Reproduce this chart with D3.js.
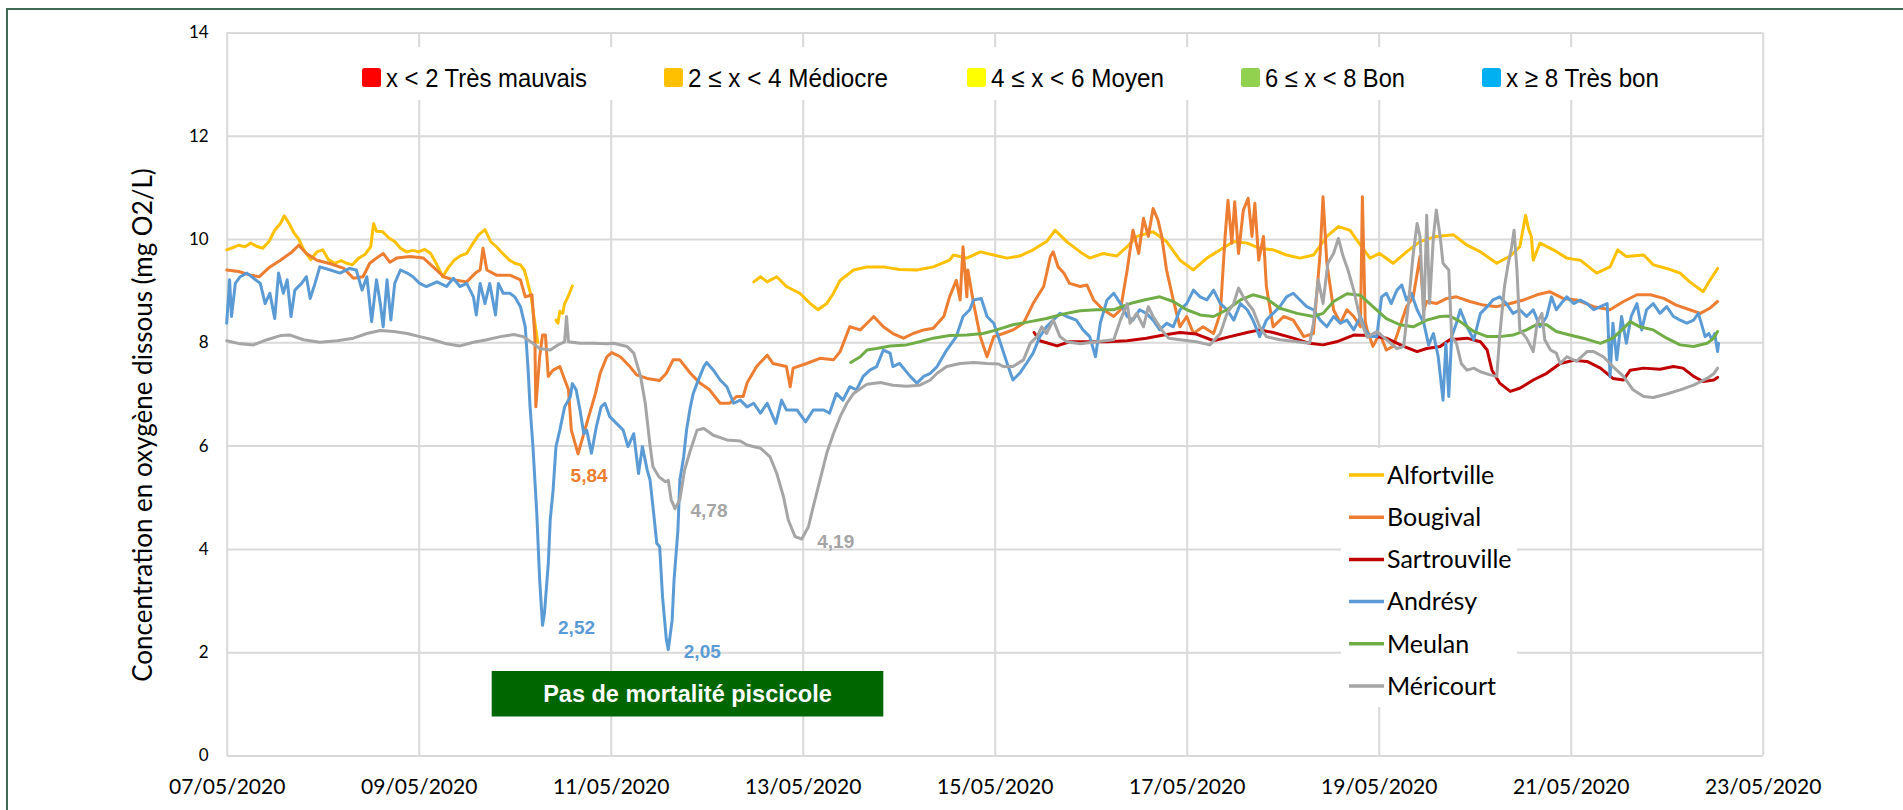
<!DOCTYPE html>
<html lang="fr">
<head>
<meta charset="utf-8">
<script src="https://cdn.jsdelivr.net/npm/d3@7"></script>
<style>
  html, body { margin: 0; padding: 0; background: #fff; }
  svg { display: block; }
</style>
</head>
<body>
<svg id="chart"></svg>
<script>
////////////
// DATA
////////////

// x ticks, y ticks
const tickLabels = ["07/05/2020", "09/05/2020", "11/05/2020", "13/05/2020", "15/05/2020",
    "17/05/2020", "19/05/2020", "21/05/2020", "23/05/2020"];
const yTicks = [0, 2, 4, 6, 8, 10, 12, 14];

// quality classes (top legend)
const classes = ["x < 2 Très mauvais", "2 ≤ x < 4 Médiocre", "4 ≤ x < 6 Moyen", "6 ≤ x < 8 Bon", "x ≥ 8 Très bon"];

const stations = ["Alfortville", "Bougival", "Sartrouville", "Andrésy", "Meulan", "Méricourt"];

// [days since 07/05/2020 00:00, mg O2/L] - null = no measure
const alfortville = [[0,9.79],[0.06,9.83],[0.125,9.88],[0.19,9.85],[0.25,9.92],[0.31,9.86],[0.375,9.82],[0.44,9.95],[0.5,10.17],[0.56,10.3],[0.6,10.45],[0.65,10.3],[0.7,10.12],[0.75,10.0],[0.8,9.8],[0.875,9.6],[0.94,9.75],[1.0,9.79],[1.06,9.6],[1.125,9.53],[1.19,9.58],[1.25,9.53],[1.31,9.5],[1.375,9.63],[1.44,9.7],[1.5,9.85],[1.53,10.3],[1.56,10.15],[1.625,10.14],[1.69,10.02],[1.75,9.95],[1.81,9.82],[1.875,9.75],[1.94,9.78],[2.0,9.75],[2.06,9.8],[2.125,9.72],[2.19,9.5],[2.25,9.27],[2.31,9.45],[2.375,9.6],[2.44,9.68],[2.5,9.72],[2.56,9.9],[2.625,10.08],[2.69,10.18],[2.75,9.95],[2.81,9.85],[2.875,9.72],[2.94,9.6],[3.0,9.53],[3.06,9.5],[3.1,9.4],[3.13,9.2],[3.17,8.9],[3.2,8.5],[3.24,8.0],[3.3,null],
    [3.43,8.43],[3.45,8.37],[3.47,8.6],[3.5,8.56],[3.52,8.75],[3.56,8.9],[3.6,9.09],[3.7,null],
    [5.49,9.17],[5.56,9.27],[5.63,9.17],[5.73,9.27],[5.83,9.08],[5.97,8.95],[6.08,8.75],[6.16,8.63],[6.25,8.75],[6.32,8.95],[6.39,9.2],[6.53,9.4],[6.67,9.46],[6.84,9.46],[7.01,9.41],[7.19,9.4],[7.36,9.46],[7.53,9.59],[7.57,9.69],[7.71,9.63],[7.85,9.75],[7.99,9.69],[8.13,9.63],[8.26,9.67],[8.4,9.79],[8.54,9.95],[8.63,10.17],[8.75,9.95],[8.89,9.75],[8.99,9.63],[9.13,9.72],[9.27,9.67],[9.38,9.85],[9.48,10.05],[9.65,10.14],[9.79,9.95],[9.93,9.59],[10.07,9.4],[10.21,9.63],[10.35,9.79],[10.49,9.95],[10.63,9.92],[10.76,9.82],[10.9,9.79],[11.04,9.69],[11.18,9.63],[11.32,9.69],[11.46,10.05],[11.58,10.24],[11.7,10.17],[11.81,9.88],[11.91,9.63],[12.01,9.72],[12.15,9.53],[12.29,9.75],[12.43,9.95],[12.6,10.05],[12.78,10.08],[12.92,9.88],[13.06,9.75],[13.23,9.53],[13.37,9.67],[13.47,9.85],[13.53,10.46],[13.56,10.2],[13.59,10.05],[13.61,9.59],[13.68,9.92],[13.82,9.79],[13.96,9.63],[14.1,9.59],[14.27,9.34],[14.41,9.46],[14.49,9.79],[14.58,9.66],[14.76,9.69],[14.86,9.5],[15.0,9.43],[15.14,9.34],[15.24,9.17],[15.38,8.98],[15.45,9.2],[15.53,9.43]];

const bougival = [[0,9.4],[0.125,9.37],[0.25,9.3],[0.34,9.27],[0.45,9.46],[0.56,9.59],[0.68,9.75],[0.75,9.88],[0.83,9.72],[0.94,9.59],[1.08,9.52],[1.22,9.43],[1.32,9.24],[1.42,9.27],[1.49,9.53],[1.56,9.63],[1.63,9.72],[1.7,9.55],[1.77,9.63],[1.91,9.66],[2.05,9.63],[2.15,9.46],[2.26,9.27],[2.36,9.21],[2.5,9.17],[2.59,9.34],[2.64,9.4],[2.67,9.82],[2.71,9.4],[2.81,9.3],[2.95,9.3],[3.06,9.21],[3.11,8.88],[3.18,8.92],[3.21,8.1],[3.22,6.75],[3.26,7.72],[3.29,8.14],[3.32,8.14],[3.35,7.34],[3.4,7.46],[3.47,7.53],[3.56,7.08],[3.59,6.3],[3.66,5.84],[3.73,6.3],[3.78,6.62],[3.84,7.0],[3.89,7.4],[3.96,7.72],[4.01,7.8],[4.1,7.72],[4.2,7.53],[4.27,7.37],[4.38,7.3],[4.51,7.26],[4.58,7.4],[4.65,7.66],[4.72,7.66],[4.83,7.4],[4.93,7.21],[5.03,7.08],[5.14,6.82],[5.24,6.82],[5.31,6.95],[5.38,6.95],[5.42,7.21],[5.52,7.53],[5.63,7.75],[5.69,7.59],[5.83,7.53],[5.87,7.14],[5.9,7.5],[6.04,7.59],[6.18,7.69],[6.32,7.66],[6.39,7.82],[6.49,8.3],[6.6,8.24],[6.67,8.37],[6.74,8.5],[6.84,8.3],[6.94,8.17],[7.05,8.08],[7.15,8.17],[7.26,8.24],[7.36,8.27],[7.47,8.5],[7.53,8.88],[7.6,9.2],[7.64,8.82],[7.67,9.85],[7.71,8.88],[7.72,9.4],[7.78,8.75],[7.85,8.11],[7.92,7.72],[7.99,8.11],[8.09,8.17],[8.19,8.24],[8.3,8.37],[8.4,8.75],[8.51,9.08],[8.58,9.66],[8.61,9.75],[8.66,9.46],[8.72,9.34],[8.78,9.14],[8.89,9.08],[8.96,9.11],[9.03,8.82],[9.13,8.63],[9.24,8.5],[9.31,8.63],[9.38,9.4],[9.44,10.17],[9.5,9.72],[9.55,10.4],[9.6,10.05],[9.65,10.59],[9.7,10.37],[9.74,10.05],[9.79,9.4],[9.86,8.82],[9.93,8.3],[10.0,8.5],[10.07,8.17],[10.17,8.3],[10.28,8.17],[10.35,8.56],[10.4,10.05],[10.43,10.75],[10.47,9.92],[10.5,10.72],[10.54,9.72],[10.59,10.56],[10.64,10.79],[10.68,10.05],[10.71,10.69],[10.75,9.59],[10.8,10.05],[10.83,9.08],[10.9,8.3],[11.01,8.5],[11.11,8.43],[11.22,8.11],[11.32,8.17],[11.39,9.72],[11.42,10.82],[11.46,9.53],[11.53,8.63],[11.6,8.37],[11.67,8.63],[11.74,8.5],[11.81,8.3],[11.83,10.82],[11.86,8.4],[11.88,8.24],[11.94,7.92],[12.01,8.17],[12.08,7.85],[12.15,7.92],[12.22,8.3],[12.29,8.69],[12.36,8.88],[12.43,9.66],[12.47,8.63],[12.5,8.79],[12.6,8.75],[12.71,8.85],[12.81,8.88],[12.95,8.79],[13.09,8.72],[13.23,8.69],[13.37,8.75],[13.51,8.82],[13.65,8.92],[13.78,8.98],[13.92,8.85],[14.06,8.82],[14.24,8.69],[14.41,8.63],[14.55,8.79],[14.69,8.92],[14.83,8.92],[14.97,8.85],[15.1,8.72],[15.24,8.63],[15.35,8.56],[15.45,8.66],[15.53,8.79]];

const sartrouville = [[8.41,8.19],[8.47,8.03],[8.65,7.93],[8.78,8.01],[8.96,8.01],[9.17,8.01],[9.38,8.03],[9.58,8.08],[9.76,8.14],[9.93,8.19],[10.1,8.16],[10.28,8.03],[10.45,8.11],[10.63,8.19],[10.76,8.24],[10.9,8.19],[11.11,8.08],[11.28,7.98],[11.42,7.95],[11.56,8.01],[11.74,8.14],[11.91,8.13],[12.08,8.08],[12.26,7.92],[12.4,7.82],[12.5,7.88],[12.64,7.92],[12.74,8.05],[12.92,8.08],[13.06,8.01],[13.13,7.85],[13.18,7.46],[13.26,7.21],[13.37,7.05],[13.47,7.11],[13.61,7.27],[13.75,7.4],[13.89,7.59],[14.03,7.65],[14.17,7.63],[14.31,7.5],[14.44,7.3],[14.55,7.27],[14.62,7.46],[14.76,7.5],[14.93,7.48],[15.07,7.53],[15.17,7.5],[15.28,7.34],[15.38,7.24],[15.49,7.27],[15.53,7.32]];

const andresy = [[0,8.37],[0.03,9.21],[0.05,8.5],[0.09,9.14],[0.14,9.27],[0.21,9.34],[0.28,9.24],[0.35,9.14],[0.4,8.75],[0.45,8.95],[0.5,8.46],[0.54,9.34],[0.59,8.95],[0.63,9.21],[0.67,8.5],[0.71,9.01],[0.78,9.14],[0.83,9.27],[0.87,8.85],[0.92,9.14],[0.97,9.46],[1.08,9.4],[1.18,9.34],[1.28,9.43],[1.35,9.4],[1.41,9.01],[1.46,9.27],[1.51,8.4],[1.56,9.21],[1.6,8.75],[1.63,8.3],[1.67,9.21],[1.71,8.43],[1.75,9.14],[1.81,9.4],[1.88,9.34],[1.94,9.27],[2.01,9.14],[2.08,9.08],[2.19,9.17],[2.29,9.08],[2.36,9.24],[2.43,9.08],[2.5,9.14],[2.57,8.88],[2.6,8.53],[2.64,9.14],[2.69,8.75],[2.74,9.14],[2.8,8.53],[2.83,9.14],[2.88,8.95],[2.95,8.95],[3.0,8.88],[3.06,8.69],[3.11,8.3],[3.14,7.46],[3.16,6.75],[3.19,5.98],[3.23,4.69],[3.26,3.4],[3.29,2.52],[3.31,2.75],[3.35,3.72],[3.37,4.56],[3.4,5.14],[3.43,5.98],[3.47,6.3],[3.52,6.75],[3.58,6.95],[3.6,7.2],[3.64,7.08],[3.68,6.69],[3.72,6.23],[3.75,6.3],[3.8,5.85],[3.85,6.36],[3.9,6.75],[3.94,6.82],[3.99,6.56],[4.06,6.43],[4.13,6.3],[4.18,5.98],[4.24,6.23],[4.29,5.46],[4.33,5.98],[4.38,5.53],[4.41,5.33],[4.44,4.82],[4.48,4.11],[4.51,4.04],[4.54,3.07],[4.58,2.24],[4.6,2.05],[4.64,2.62],[4.66,3.4],[4.7,4.36],[4.72,5.33],[4.76,5.78],[4.79,6.3],[4.83,6.75],[4.86,7.01],[4.9,7.21],[4.97,7.53],[5.0,7.61],[5.07,7.46],[5.14,7.27],[5.21,7.14],[5.28,6.82],[5.35,6.88],[5.42,6.75],[5.49,6.82],[5.56,6.63],[5.63,6.82],[5.72,6.43],[5.78,6.88],[5.83,6.69],[5.94,6.69],[6.03,6.46],[6.11,6.69],[6.22,6.69],[6.28,6.63],[6.35,7.01],[6.42,6.88],[6.49,7.14],[6.56,7.08],[6.63,7.34],[6.7,7.46],[6.77,7.53],[6.84,7.85],[6.91,7.79],[6.94,7.53],[7.01,7.59],[7.12,7.34],[7.19,7.21],[7.26,7.34],[7.33,7.4],[7.4,7.53],[7.5,7.85],[7.6,8.11],[7.67,8.5],[7.74,8.63],[7.78,8.82],[7.86,8.85],[7.92,8.5],[7.99,8.37],[8.06,7.98],[8.13,7.59],[8.19,7.27],[8.26,7.4],[8.33,7.59],[8.4,7.79],[8.47,8.11],[8.54,8.3],[8.61,8.43],[8.68,8.56],[8.75,8.5],[8.85,8.43],[8.92,8.24],[8.99,8.11],[9.05,7.72],[9.1,8.37],[9.17,8.82],[9.24,8.95],[9.31,8.75],[9.38,8.5],[9.44,8.43],[9.51,8.63],[9.58,8.56],[9.65,8.43],[9.72,8.24],[9.79,8.37],[9.86,8.3],[9.93,8.63],[10.0,8.75],[10.07,9.01],[10.14,8.88],[10.21,8.82],[10.28,9.01],[10.35,8.75],[10.42,8.63],[10.49,8.43],[10.56,8.75],[10.63,8.63],[10.69,8.43],[10.76,8.11],[10.83,8.43],[10.9,8.56],[10.97,8.69],[11.04,8.88],[11.11,8.95],[11.18,8.82],[11.25,8.69],[11.32,8.63],[11.39,8.43],[11.46,8.3],[11.53,8.5],[11.6,8.37],[11.67,8.43],[11.74,8.24],[11.81,8.5],[11.86,8.24],[11.91,8.11],[11.98,8.11],[12.03,8.88],[12.08,8.95],[12.13,8.75],[12.19,9.01],[12.24,9.11],[12.29,8.82],[12.34,8.95],[12.4,8.63],[12.47,8.37],[12.52,7.95],[12.57,8.17],[12.62,7.72],[12.67,6.88],[12.7,7.98],[12.73,6.95],[12.76,8.11],[12.81,8.37],[12.85,8.63],[12.92,8.3],[12.99,8.05],[13.06,8.56],[13.13,8.69],[13.19,8.82],[13.26,8.88],[13.33,8.75],[13.4,8.56],[13.47,8.63],[13.54,8.5],[13.61,8.63],[13.68,8.3],[13.75,8.5],[13.8,8.88],[13.85,8.63],[13.9,8.75],[13.96,8.88],[14.03,8.75],[14.1,8.82],[14.17,8.75],[14.24,8.63],[14.31,8.69],[14.38,8.75],[14.41,7.34],[14.44,8.37],[14.48,7.66],[14.53,8.5],[14.58,7.98],[14.63,8.5],[14.69,8.75],[14.74,8.24],[14.79,8.63],[14.86,8.75],[14.93,8.56],[15.0,8.69],[15.07,8.5],[15.14,8.43],[15.21,8.37],[15.28,8.43],[15.33,8.56],[15.36,8.37],[15.4,8.11],[15.44,8.17],[15.47,8.05],[15.5,8.17],[15.53,7.82],[15.54,7.98]];

const meulan = [[6.5,7.61],[6.6,7.72],[6.67,7.85],[6.77,7.88],[6.91,7.93],[7.08,7.95],[7.22,8.01],[7.36,8.08],[7.53,8.13],[7.71,8.14],[7.88,8.17],[8.02,8.24],[8.19,8.34],[8.37,8.4],[8.54,8.46],[8.72,8.55],[8.89,8.61],[9.06,8.63],[9.24,8.63],[9.41,8.75],[9.58,8.83],[9.72,8.88],[9.86,8.79],[10.0,8.63],[10.14,8.53],[10.28,8.5],[10.42,8.63],[10.56,8.82],[10.69,8.92],[10.83,8.85],[10.97,8.66],[11.15,8.56],[11.32,8.5],[11.42,8.56],[11.53,8.79],[11.67,8.94],[11.81,8.91],[11.94,8.69],[12.08,8.46],[12.22,8.34],[12.36,8.3],[12.5,8.43],[12.64,8.5],[12.74,8.51],[12.85,8.4],[12.99,8.21],[13.13,8.11],[13.26,8.11],[13.4,8.14],[13.54,8.24],[13.65,8.35],[13.75,8.34],[13.85,8.21],[13.99,8.14],[14.13,8.08],[14.31,7.98],[14.44,8.08],[14.55,8.27],[14.62,8.4],[14.72,8.3],[14.86,8.24],[15.0,8.08],[15.14,7.95],[15.28,7.92],[15.42,7.98],[15.49,8.08],[15.53,8.21]];

const mericourt = [[0,8.03],[0.14,7.97],[0.28,7.95],[0.42,8.05],[0.56,8.13],[0.66,8.14],[0.8,8.05],[0.97,8.0],[1.15,8.03],[1.32,8.08],[1.46,8.17],[1.6,8.23],[1.74,8.21],[1.88,8.17],[2.01,8.11],[2.15,8.05],[2.29,7.97],[2.43,7.93],[2.57,8.0],[2.71,8.05],[2.85,8.11],[2.99,8.15],[3.09,8.11],[3.19,7.98],[3.26,7.88],[3.37,7.85],[3.45,7.95],[3.52,8.01],[3.54,8.5],[3.56,8.01],[3.68,7.98],[3.82,7.98],[3.96,7.97],[4.03,7.98],[4.17,7.92],[4.24,7.79],[4.31,7.35],[4.36,6.82],[4.41,6.0],[4.44,5.59],[4.5,5.4],[4.57,5.3],[4.6,5.33],[4.63,4.95],[4.67,4.78],[4.72,4.95],[4.77,5.53],[4.83,5.91],[4.9,6.3],[4.97,6.33],[5.07,6.2],[5.21,6.11],[5.35,6.09],[5.42,6.01],[5.56,5.95],[5.66,5.78],[5.73,5.46],[5.8,5.01],[5.85,4.56],[5.92,4.24],[5.99,4.19],[6.06,4.43],[6.11,4.82],[6.18,5.33],[6.25,5.85],[6.32,6.23],[6.39,6.56],[6.46,6.82],[6.53,7.01],[6.67,7.19],[6.81,7.22],[6.94,7.17],[7.08,7.15],[7.22,7.17],[7.33,7.27],[7.4,7.4],[7.5,7.53],[7.64,7.59],[7.78,7.61],[7.92,7.59],[8.04,7.58],[8.09,7.53],[8.19,7.53],[8.3,7.66],[8.37,7.98],[8.44,8.11],[8.49,8.3],[8.54,8.17],[8.61,8.43],[8.68,8.11],[8.75,8.01],[8.89,7.97],[9.06,8.01],[9.24,8.05],[9.31,8.43],[9.38,8.75],[9.41,8.37],[9.48,8.56],[9.55,8.3],[9.6,8.69],[9.65,8.5],[9.74,8.24],[9.81,8.08],[9.93,8.05],[10.1,8.01],[10.24,7.95],[10.35,8.17],[10.42,8.56],[10.49,8.75],[10.54,9.05],[10.59,8.88],[10.64,8.75],[10.69,8.63],[10.76,8.3],[10.83,8.11],[10.97,8.05],[11.15,8.01],[11.28,7.98],[11.32,8.37],[11.37,9.21],[11.42,8.75],[11.47,9.53],[11.53,9.72],[11.58,10.01],[11.63,9.66],[11.68,9.4],[11.74,9.01],[11.81,8.43],[11.88,8.1],[11.98,8.21],[12.08,8.05],[12.19,7.88],[12.26,7.92],[12.31,8.75],[12.36,9.72],[12.4,10.3],[12.43,10.05],[12.47,8.43],[12.5,10.46],[12.53,8.75],[12.57,10.05],[12.6,10.56],[12.64,10.05],[12.67,9.53],[12.73,9.4],[12.76,8.11],[12.81,7.98],[12.86,7.59],[12.92,7.46],[12.99,7.5],[13.06,7.43],[13.16,7.37],[13.23,7.34],[13.26,8.11],[13.31,9.08],[13.35,9.53],[13.38,9.79],[13.41,10.17],[13.44,9.4],[13.47,8.24],[13.54,8.08],[13.61,7.82],[13.65,8.37],[13.7,8.56],[13.73,8.05],[13.79,7.85],[13.85,7.79],[13.89,7.59],[13.96,7.72],[14.06,7.63],[14.17,7.82],[14.24,7.82],[14.34,7.72],[14.44,7.53],[14.55,7.34],[14.65,7.08],[14.76,6.95],[14.86,6.93],[15.0,7.0],[15.14,7.08],[15.28,7.17],[15.42,7.3],[15.49,7.39],[15.53,7.5]];

// labelled minima
const minima = [
    { station: "Bougival", day: 3.66, value: 5.84, label: "5,84" },
    { station: "Andrésy", day: 3.29, value: 2.52, label: "2,52" },
    { station: "Andrésy", day: 4.6, value: 2.05, label: "2,05" },
    { station: "Méricourt", day: 4.67, value: 4.78, label: "4,78" },
    { station: "Méricourt", day: 5.99, value: 4.19, label: "4,19" }
];

const note = "Pas de mortalité piscicole";
const yTitle = "Concentration en oxygène dissous (mg O2/L)";

////////////
// SETTINGS
////////////

const width = 1903, height = 810;
const plot = { left: 226.7, right: 1762.7, top: 32.4, bottom: 755.5 };

const seriesData = [alfortville, bougival, sartrouville, andresy, meulan, mericourt];
const stationColors = ["#FFC000", "#ED7D31", "#C00000", "#5B9BD5", "#70AD47", "#A5A5A5"];
const classColors = ["#FF0000", "#FFC000", "#FFFF00", "#92D050", "#00B0F0"];
// top legend layout: swatch x and text width
const classSwatchX = [362, 664, 967, 1241, 1482];
const classTextW = [201, 200, 173, 140, 153];
const gridColor = "#D9D9D9";

const parseDate = d3.timeParse("%d/%m/%Y");
const tickDates = tickLabels.map(parseDate);
const dayMs = 24 * 3600 * 1000;
const toDate = (d) => new Date(tickDates[0].getTime() + d * dayMs);

const svg = d3.select("#chart").attr("width", width).attr("height", height);

const x = d3.scaleTime()
    .domain([tickDates[0], tickDates[tickDates.length - 1]])
    .range([plot.left, plot.right]);
const y = d3.scaleLinear().domain([0, 14]).range([plot.bottom, plot.top]);

////////////
// DRAWING
////////////

// outer frame
svg.append("rect")
    .attr("x", 7).attr("y", 9)
    .attr("width", width + 50).attr("height", height + 50)
    .attr("fill", "none")
    .attr("stroke", "#3F6B50")
    .attr("stroke-width", 2);

// horizontal gridlines + y labels
const yAxis = svg.append("g")
    .attr("transform", `translate(${plot.left},0)`)
    .call(d3.axisLeft(y).tickValues(yTicks).tickSize(-(plot.right - plot.left)).tickPadding(18).tickFormat(d3.format("d")));
yAxis.select(".domain").remove();
yAxis.selectAll("line").attr("stroke", gridColor).attr("stroke-width", 2);
yAxis.selectAll("text")
    .attr("font-family", "Lato, sans-serif")
    .attr("font-size", 17)
    .attr("fill", "#000");

// vertical gridlines + date labels
const xAxis = svg.append("g")
    .attr("transform", `translate(0,${plot.bottom})`)
    .call(d3.axisBottom(x).tickValues(tickDates).tickSize(-(plot.bottom - plot.top)).tickPadding(24).tickFormat(d3.timeFormat("%d/%m/%Y")));
xAxis.select(".domain").remove();
xAxis.selectAll("line").attr("stroke", gridColor).attr("stroke-width", 2);
xAxis.selectAll("text")
    .attr("font-family", "Lato, sans-serif")
    .attr("font-size", 21)
    .attr("fill", "#000");

// y title
svg.append("text")
    .attr("transform", "translate(152,425) rotate(-90)")
    .attr("text-anchor", "middle")
    .attr("font-family", "Lato, sans-serif")
    .attr("font-size", 26)
    .attr("fill", "#000")
    .text(yTitle);

// top legend (quality classes)
const topLegend = svg.append("g");
topLegend.append("rect")
    .attr("x", 348).attr("y", 47).attr("width", 1330).attr("height", 53)
    .attr("fill", "#fff");
classes.forEach(function (c, i) {
    const lx = classSwatchX[i];
    topLegend.append("rect")
        .attr("x", lx).attr("y", 68).attr("width", 19).attr("height", 19)
        .attr("rx", 2.5)
        .attr("fill", classColors[i]);
    topLegend.append("text")
        .attr("x", lx + 24).attr("y", 87)
        .attr("font-family", "'Liberation Sans Narrow', 'Arial Narrow', sans-serif")
        .attr("font-size", 26.5)
        .attr("textLength", classTextW[i])
        .attr("lengthAdjust", "spacingAndGlyphs")
        .attr("fill", "#000")
        .text(c);
});

// right legend (stations)
const sideLegend = svg.append("g");
sideLegend.append("rect")
    .attr("x", 1341).attr("y", 448).attr("width", 176).attr("height", 259)
    .attr("fill", "#fff");
stations.forEach(function (s, i) {
    const ly = 475 + i * 42.2;
    sideLegend.append("line")
        .attr("x1", 1349).attr("x2", 1384).attr("y1", ly).attr("y2", ly)
        .attr("stroke", stationColors[i]).attr("stroke-width", 3.5);
    sideLegend.append("text")
        .attr("x", 1387).attr("y", ly).attr("dy", "0.35em")
        .attr("font-family", "Lato, sans-serif")
        .attr("font-size", 25)
        .attr("fill", "#000")
        .text(s);
});

// series
const line = d3.line()
    .defined((d) => d[1] != null)
    .x((d) => x(toDate(d[0])))
    .y((d) => y(d[1]));

svg.append("g").selectAll("path")
    .data(seriesData)
    .join("path")
    .attr("d", line)
    .attr("fill", "none")
    .attr("stroke", (d, i) => stationColors[i])
    .attr("stroke-width", 3)
    .attr("stroke-linejoin", "round")
    .attr("stroke-linecap", "round");

// minima labels
svg.append("g").selectAll("text")
    .data(minima)
    .join("text")
    .attr("x", (d) => x(toDate(d.day)) + (d.station == "Bougival" ? 11 : 34))
    .attr("y", (d) => y(d.value) + (d.station == "Bougival" ? 21 : 2))
    .attr("dy", "0.35em")
    .attr("text-anchor", "middle")
    .attr("font-family", "'Liberation Sans', Arial, sans-serif")
    .attr("font-weight", "bold")
    .attr("font-size", 19)
    .attr("fill", (d) => stationColors[stations.indexOf(d.station)])
    .text((d) => d.label);

// note box
svg.append("rect")
    .attr("x", 491.7).attr("y", 671).attr("width", 391.6).attr("height", 45.5)
    .attr("fill", "#006600");
svg.append("text")
    .attr("x", 687.5).attr("y", 694).attr("dy", "0.35em")
    .attr("text-anchor", "middle")
    .attr("font-family", "'Liberation Sans', Arial, sans-serif")
    .attr("font-weight", "bold")
    .attr("font-size", 23.5)
    .attr("fill", "#fff")
    .text(note);
</script>
</body>
</html>
